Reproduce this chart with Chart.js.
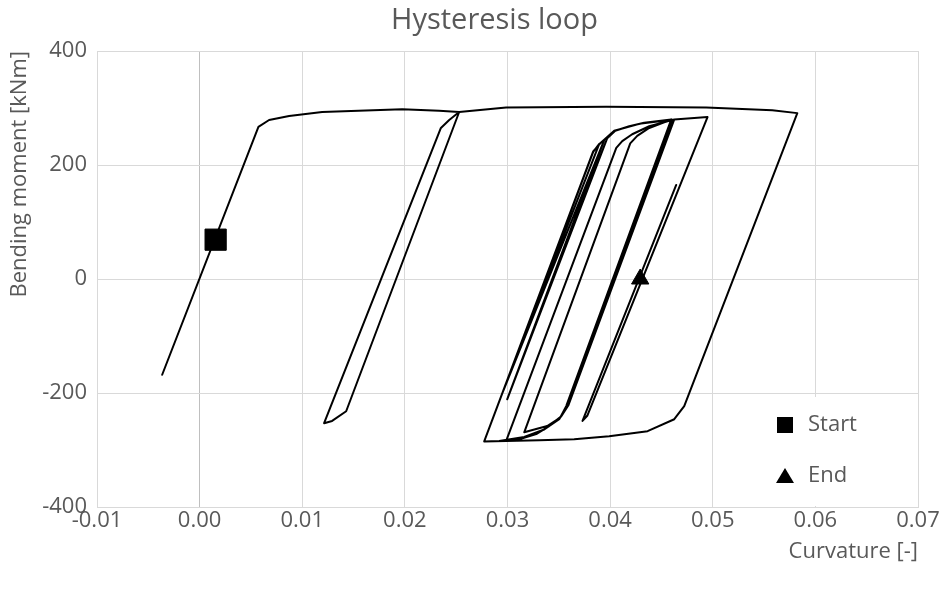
<!DOCTYPE html>
<html>
<head>
<meta charset="utf-8">
<script src="https://cdn.jsdelivr.net/npm/chart.js@4.4.1/dist/chart.umd.min.js"></script>
<style>
  html, body { margin: 0; padding: 0; background: #fff; }
  #wrap { width: 946px; height: 594px; }
</style>
</head>
<body>
<div id="wrap"><canvas id="chart" width="946" height="594"></canvas></div>
<script>
// loop path (curvature [-], bending moment [kNm])
const curvature = [
  -0.00365, 0.00573, 0.00677, 0.00872, 0.01194, 0.01974, 0.02334, 0.02529,
  0.01428, 0.01291, 0.01213, 0.02351, 0.02432, 0.02529,
  0.02987, 0.03962, 0.04937, 0.05580, 0.05824,
  0.04722, 0.04625, 0.04365, 0.03991, 0.03650, 0.03309, 0.02984, 0.02773,
  0.03835, 0.03894, 0.02948, 0.03943, 0.02997, 0.03972, 0.04050, 0.04186, 0.04332, 0.04596,
  0.03572, 0.03514, 0.03387, 0.03163,
  0.04196, 0.04264, 0.04381, 0.04527, 0.04625,
  0.03592, 0.03523, 0.03406, 0.03280, 0.03114, 0.02987,
  0.04060, 0.04118, 0.04215, 0.04381, 0.04605,
  0.03572, 0.03504, 0.03358, 0.03163, 0.02919, 0.02773,
  0.03835, 0.03904, 0.04040, 0.04303, 0.04625, 0.04949,
  0.03777, 0.03731, 0.04644
];
const moment = [
  -168, 267, 279, 286, 293, 298, 295, 293,
  -232, -249, -253, 265, 279, 293,
  301, 302, 301, 296, 291,
  -223, -246, -267, -276, -281, -283, -284, -285,
  223, 237, -201, 244, -211, 247, 260, 268, 274, 280,
  -223, -243, -258, -269,
  238, 251, 265, 275, 280,
  -222, -241, -258, -272, -281, -284,
  230, 242, 254, 268, 279,
  -225, -246, -264, -277, -284, -285,
  224, 238, 260, 273, 280, 284,
  -240, -249, 165
];
const startCurvature = [0.00156];
const startMoment = [69];
const endCurvature = [0.04293];
const endMoment = [0];

const xMin = -0.01, xMax = 0.07, xStep = 0.01;
const yMin = -400, yMax = 400, yStep = 200;

const FONT = "'Open Sans', 'Segoe UI', sans-serif";
const TEXT = '#595959';
const GRID = '#d9d9d9';
const TITLE = 'Hysteresis loop';

const toPoints = (xs, ys) => xs.map((x, i) => ({ x: x, y: ys[i] }));

// title drawn by hand: Excel centres it a bit left of the plot centre
const chartTitle = {
  id: 'chartTitle',
  afterDraw(chart) {
    const { ctx, chartArea } = chart;
    ctx.save();
    ctx.font = '29px ' + FONT;
    ctx.fillStyle = TEXT;
    ctx.textAlign = 'center';
    ctx.textBaseline = 'middle';
    ctx.fillText(TITLE, (chartArea.left + chartArea.right) / 2 - 13, 21);
    ctx.restore();
  }
};

// legend sits inside the plot, bottom right, on a white box
const insideLegend = {
  id: 'insideLegend',
  beforeDatasetsDraw(chart) {
    const { ctx, chartArea } = chart;
    const items = chart.data.datasets.filter(d => d.inLegend);
    const boxL = chartArea.right - 173, boxT = chartArea.bottom - 110;
    ctx.save();
    ctx.fillStyle = '#fff';
    ctx.fillRect(boxL, boxT, 171, 109);
    ctx.font = '22px ' + FONT;
    ctx.textBaseline = 'middle';
    items.forEach((d, i) => {
      const cy = chartArea.bottom - 82 + i * 51;
      const cx = chartArea.right - 133;
      ctx.fillStyle = '#000';
      if (d.pointStyle === 'rect') {
        ctx.fillRect(cx - 8, cy - 8, 16, 16);
      } else {
        ctx.beginPath();
        ctx.moveTo(cx, cy - 8);
        ctx.lineTo(cx + 9, cy + 7);
        ctx.lineTo(cx - 9, cy + 7);
        ctx.closePath();
        ctx.fill();
      }
      ctx.fillStyle = TEXT;
      ctx.fillText(d.label, chartArea.right - 110, cy);
    });
    ctx.restore();
  }
};

new Chart(document.getElementById('chart'), {
  type: 'scatter',
  data: {
    datasets: [
      {
        label: 'Loop',
        data: toPoints(curvature, moment),
        showLine: true,
        borderColor: '#000',
        borderWidth: 2,
        borderJoinStyle: 'round',
        borderCapStyle: 'round',
        pointRadius: 0,
        tension: 0
      },
      {
        label: 'Start',
        inLegend: true,
        data: toPoints(startCurvature, startMoment),
        pointStyle: 'rect',
        pointRadius: 15,
        backgroundColor: '#000',
        borderColor: '#000'
      },
      {
        label: 'End',
        inLegend: true,
        data: toPoints(endCurvature, endMoment),
        pointStyle: 'triangle',
        pointRadius: 10,
        backgroundColor: '#000',
        borderColor: '#000'
      }
    ]
  },
  options: {
    responsive: false,
    animation: false,
    devicePixelRatio: 1,
    layout: { padding: { left: 0, right: 28, top: 51, bottom: 0 } },
    plugins: {
      legend: { display: false },
      tooltip: { enabled: false },
      title: { display: false }
    },
    scales: {
      x: {
        type: 'linear',
        min: xMin, max: xMax,
        afterFit: s => { s.height = 87; s.paddingLeft = 0; s.paddingRight = 0; },
        ticks: {
          stepSize: xStep,
          color: TEXT,
          padding: 1,
          font: { family: FONT, size: 22 },
          callback: v => v.toFixed(2)
        },
        grid: {
          color: c => (c.tick && Math.abs(c.tick.value) < 1e-9) ? '#bfbfbf' : GRID,
          drawTicks: false
        },
        border: { color: GRID },
        title: {
          display: true,
          text: 'Curvature [-]',
          align: 'end',
          color: TEXT,
          font: { family: FONT, size: 22 },
          padding: { top: 4, bottom: 29 }
        }
      },
      y: {
        min: yMin, max: yMax,
        afterFit: s => { s.width = 97; s.paddingTop = 0; s.paddingBottom = 0; },
        ticks: {
          stepSize: yStep,
          color: TEXT,
          padding: 10,
          font: { family: FONT, size: 22 }
        },
        grid: { color: GRID, drawTicks: false },
        border: { color: GRID },
        title: {
          display: true,
          text: 'Bending moment [kNm]',
          align: 'end',
          color: TEXT,
          font: { family: FONT, size: 22 },
          padding: { top: 7, bottom: 0 }
        }
      }
    }
  },
  plugins: [insideLegend, chartTitle]
});
</script>
</body>
</html>
